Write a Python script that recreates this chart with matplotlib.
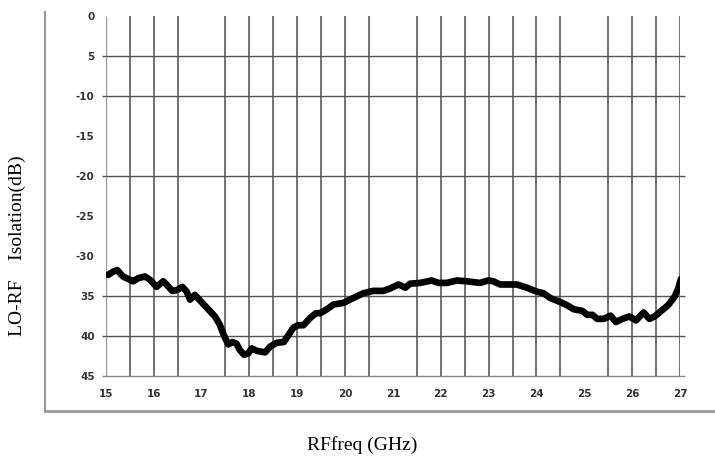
import matplotlib
matplotlib.use("Agg")
import matplotlib.pyplot as plt
from matplotlib.lines import Line2D

# RF frequency (GHz) and LO-RF isolation (dB)
freq = [15.05, 15.15, 15.24, 15.36, 15.50, 15.57, 15.68, 15.82, 15.92, 16.06,
        16.20, 16.30, 16.39, 16.49, 16.60, 16.69, 16.76, 16.86, 17.00, 17.14,
        17.28, 17.38, 17.47, 17.56, 17.65, 17.73, 17.80, 17.89, 17.98, 18.05,
        18.15, 18.33, 18.43, 18.57, 18.72, 18.81, 18.92, 19.02, 19.13, 19.27,
        19.39, 19.48, 19.62, 19.76, 19.97, 20.10, 20.24, 20.38, 20.59, 20.80,
        20.94, 21.12, 21.26, 21.36, 21.57, 21.81, 21.95, 22.13, 22.34, 22.54,
        22.82, 22.99, 23.10, 23.24, 23.59, 23.80, 24.01, 24.15, 24.29, 24.50,
        24.64, 24.78, 24.96, 25.06, 25.17, 25.27, 25.41, 25.55, 25.66, 25.80,
        25.94, 26.08, 26.24, 26.36, 26.47, 26.61, 26.75, 26.89, 26.97, 27.02]
isolation = [-32.4, -32.0, -31.8, -32.6, -33.0, -33.2, -32.8, -32.6, -33.0, -33.9,
             -33.2, -33.8, -34.4, -34.3, -33.9, -34.5, -35.5, -34.9, -35.8, -36.7,
             -37.6, -38.6, -40.0, -41.1, -40.8, -41.0, -41.8, -42.4, -42.2, -41.6,
             -41.9, -42.1, -41.4, -40.9, -40.8, -40.0, -39.0, -38.7, -38.7, -37.8,
             -37.2, -37.2, -36.7, -36.1, -35.9, -35.5, -35.1, -34.7, -34.4, -34.4,
             -34.1, -33.6, -34.0, -33.5, -33.4, -33.1, -33.4, -33.4, -33.1, -33.2,
             -33.4, -33.1, -33.2, -33.6, -33.6, -34.0, -34.5, -34.7, -35.3, -35.8,
             -36.2, -36.7, -36.9, -37.4, -37.4, -37.9, -37.9, -37.5, -38.3, -37.9,
             -37.6, -38.1, -37.1, -37.9, -37.6, -36.9, -36.2, -35.1, -34.0, -32.9]

x_ticks = [15, 16, 17, 18, 19, 20, 21, 22, 23, 24, 25, 26, 27]
y_ticks = [0, -5, -10, -15, -20, -25, -30, -35, -40, -45]
y_tick_labels = ["0", "5", "-10", "-15", "-20", "-25", "-30", "35", "40", "45"]
v_grid = [15.5, 16, 16.5, 17.5, 18, 18.5, 19, 19.5, 20, 20.5, 21.5, 22, 22.5,
          23, 23.5, 24, 24.5, 25.5, 26, 26.5, 27]
h_grid = [-5, -10, -20, -35, -40]

fig = plt.figure(figsize=(7.15, 4.73), dpi=100)
ax = fig.add_axes([0.148, 0.206, 0.803, 0.760])

# grid as drawn in the original (not every tick has a line)
ax.vlines(v_grid, -45, 0, colors="#5a5a5a", linewidth=1.2, zorder=1)
ax.vlines([15], -45, 0, colors="#999999", linewidth=1.0, zorder=1)
ax.hlines(h_grid, 14.92, 27.1, colors="#555555", linewidth=1.0, zorder=1,
          clip_on=False)
ax.hlines([-45], 14.92, 27.1, colors="#888888", linewidth=1.0, zorder=1,
          clip_on=False)

ax.plot(freq, isolation, color="black", linewidth=4.8,
        solid_joinstyle="round", solid_capstyle="round", zorder=3)

ax.set_xlim(15, 27)
ax.set_ylim(-45, 0)
ax.set_xticks(x_ticks)
ax.set_xticklabels([str(t) for t in x_ticks])
ax.set_yticks(y_ticks)
ax.set_yticklabels(y_tick_labels)
ax.tick_params(length=0, labelsize=7.5, labelcolor="#333333")
ax.tick_params(axis="x", pad=10)
ax.tick_params(axis="y", pad=8)
for lab in ax.get_xticklabels() + ax.get_yticklabels():
    lab.set_fontweight("bold")
for s in ax.spines.values():
    s.set_visible(False)

# outer frame (left and bottom) around the chart area
fig.add_artist(Line2D([45 / 715, 45 / 715], [1 - 12 / 473, 1 - 411 / 473],
                      color="#999999", linewidth=1.5))
fig.add_artist(Line2D([45 / 715, 1.0], [1 - 411 / 473, 1 - 411 / 473],
                      color="#999999", linewidth=2.0))

fig.text(362 / 715, 1 - 445 / 473, "RFfreq (GHz)", family="Liberation Serif",
         fontsize=14, ha="center", va="center")
fig.text(17 / 715, 1 - 246 / 473, "LO-RF    Isolation(dB)",
         family="Liberation Serif", fontsize=14, rotation=90,
         ha="center", va="center")

plt.savefig("out.png", dpi=100)
